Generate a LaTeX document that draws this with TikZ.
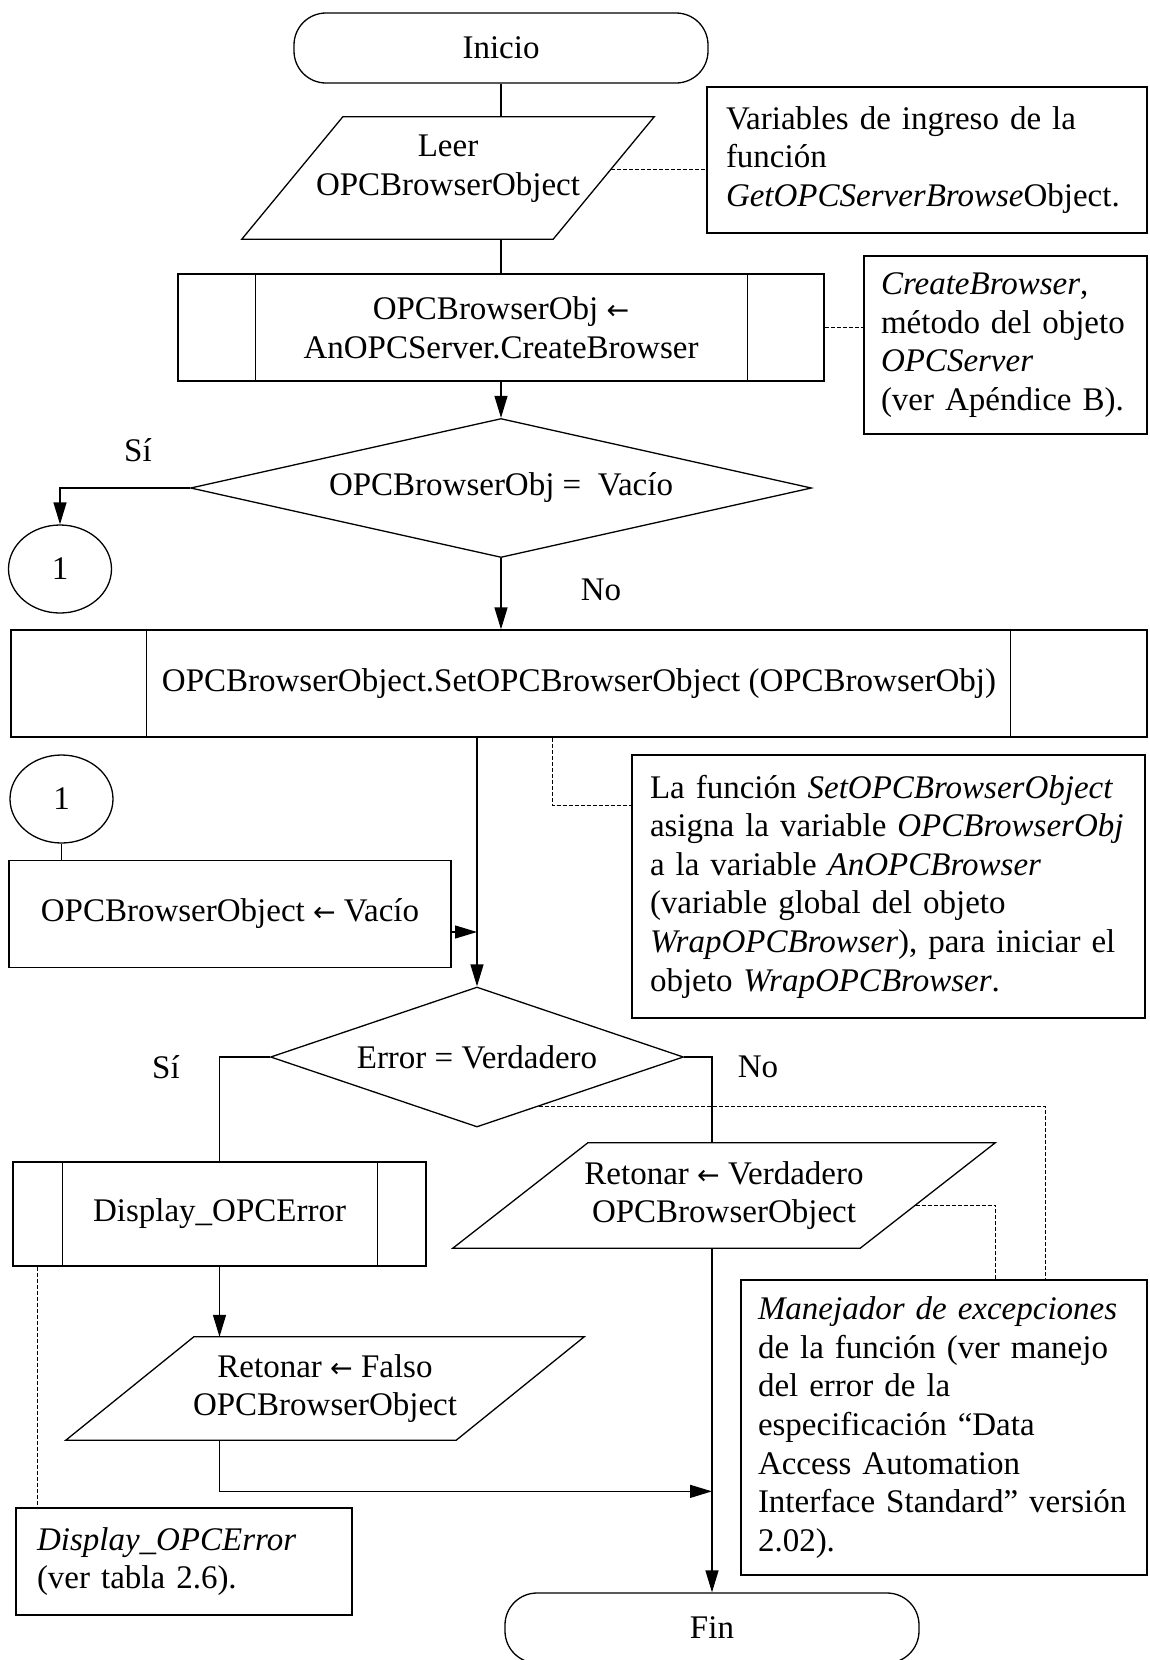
\documentclass[tikz,border=0pt]{standalone}
\usepackage{fontspec}
\setmainfont{Liberation Serif}
\newfontfamily\arrowfont{DejaVu Sans}
\usetikzlibrary{shapes.geometric,arrows.meta,calc}

% assignment arrow
\newcommand\larr{{\arrowfont\fontsize{27}{38.6}\selectfont ←}}
% side bars of a predefined-process box
\newcommand\procbars[3]{%
  \draw[shapeline] ($(#1.north west)+(#2,0)$) -- ($(#1.south west)+(#2,0)$);
  \draw[shapeline] ($(#1.north east)-(#3,0)$) -- ($(#1.south east)-(#3,0)$);}
% input/output parallelogram drawn round a rectangular node
\newcommand\slantbox[2]{%
  \coordinate (#1-tl) at ($(#1.north west)+(#2,0)$);
  \coordinate (#1-tr) at (#1.north east);
  \coordinate (#1-br) at ($(#1.south east)-(#2,0)$);
  \coordinate (#1-bl) at (#1.south west);
  \draw[shapeline] (#1-tl) -- (#1-tr) -- (#1-br) -- (#1-bl) -- cycle;}

\tikzset{
  basefont/.style={font=\fontsize{33}{38.6}\selectfont, inner sep=0pt},
  shapeline/.style={line width=1.3pt, black},
  termbox/.style={basefont, draw, shapeline, rounded corners=32pt,
    minimum width=414pt, minimum height=70pt},
  procbox/.style={basefont, draw, shapeline, align=center},
  slantnode/.style={basefont, align=center},
  decisbox/.style={basefont, draw, shapeline, diamond},
  connbox/.style={basefont, draw, shapeline, ellipse,
    minimum width=103pt, minimum height=88pt},
  notebox/.style={basefont, draw, shapeline, align=left},
  flowline/.style={line width=1.3pt},
  flowarrow/.style={line width=1.3pt, -{Triangle[length=22pt,width=13pt]}},
  notelink/.style={line width=1pt, dash pattern=on 4pt off 2pt},
}

\begin{document}
\begin{tikzpicture}[x=1pt,y=-1pt]
\useasboundingbox (0,0) rectangle (1150,1660);
\fill[white] (0,0) rectangle (1150,1660);
\clip (0,0) rectangle (1150,1660);

% main flow
\node[termbox] (inicio) at (501,48) {Inicio};

\node[slantnode, minimum width=412pt, minimum height=122pt] (leer) at (448,178) {};
\slantbox{leer}{101}
\node[slantnode] (leertxt) at (448,169) {Leer\\OPCBrowserObject};

\node[procbox, minimum width=646pt, minimum height=107pt] (cb) at (501,327.5)
  {OPCBrowserObj \larr\\AnOPCServer.CreateBrowser};
\procbars{cb}{78}{77}

\node[decisbox, aspect=4.47, minimum width=621pt, minimum height=139pt] (d1) at (501,488)
  {OPCBrowserObj =\ \ Vacío};

\node[connbox] (c1) at (60,569) {1};

\node[procbox, minimum width=1136pt, minimum height=107pt] (sb) at (579,683.5)
  {OPCBrowserObject.SetOPCBrowserObject (OPCBrowserObj)};
\procbars{sb}{136}{137}

\node[connbox] (c2) at (61.5,799) {1};

\node[procbox, minimum width=442pt, minimum height=107pt] (vb) at (230,914)
  {OPCBrowserObject \larr\ Vacío};

\node[decisbox, aspect=2.95, minimum width=413pt, minimum height=140pt] (d2) at (477,1057)
  {Error = Verdadero};

\node[procbox, minimum width=413pt, minimum height=104pt] (disp) at (219.5,1214)
  {Display\_OPCError};
\procbars{disp}{50}{49}

\node[slantnode, minimum width=542pt, minimum height=105pt] (rv) at (724,1195.5)
  {Retonar \larr\ Verdadero\\OPCBrowserObject};
\slantbox{rv}{135}

\node[slantnode, minimum width=518pt, minimum height=103pt] (rf) at (325,1388.5)
  {Retonar \larr\ Falso\\OPCBrowserObject};
\slantbox{rf}{128}

\node[termbox] (fin) at (712,1628) {Fin};

% branch labels
\node[basefont] (si1) at (138,450) {Sí};
\node[basefont] (no1) at (601,590) {No};
\node[basefont] (si2) at (166,1067) {Sí};
\node[basefont] (no2) at (758,1067) {No};

% comment boxes
\node[notebox, minimum width=440pt, minimum height=146pt, inner xsep=19pt,
  text width=402pt] (n1) at (927,160)
  {Variables de ingreso de la\\función\\\textit{GetOPCServerBrowse}Object.};
\node[notebox, minimum width=283pt, minimum height=178pt, inner xsep=17pt,
  text width=249pt] (n2) at (1005.5,345)
  {\textit{CreateBrowser},\\método del objeto\\\textit{OPCServer}\\(ver Apéndice B).};
\node[notebox, minimum width=513pt, minimum height=263pt, inner xsep=18pt,
  text width=477pt] (n3) at (888.5,886.5)
  {La función \textit{SetOPCBrowserObject}\\asigna la variable \textit{OPCBrowserObj}\\a la variable \textit{AnOPCBrowser}\\(variable global del objeto\\\textit{WrapOPCBrowser}), para iniciar el\\objeto \textit{WrapOPCBrowser}.};
\node[notebox, minimum width=406pt, minimum height=295pt, inner xsep=17pt,
  text width=372pt] (n4) at (944,1427.5)
  {\textit{Manejador de excepciones}\\de la función (ver manejo\\del error de la\\especificación “Data\\Access Automation\\Interface Standard” versión\\2.02).};
\node[notebox, minimum width=336pt, minimum height=107pt, inner xsep=21pt,
  text width=294pt] (n5) at (184,1561.5)
  {\textit{Display\_OPCError}\\(ver tabla 2.6).};

% flow connectors
\draw[flowline] (inicio.south) -- (inicio.south |- leer.north);
\draw[flowline] (cb.north |- leer.south) -- (cb.north);
\draw[flowarrow] (cb.south) -- (d1.north);
\draw[flowarrow] (d1.west) -| (c1.north);
\draw[flowarrow] (d1.south) -- (d1.south |- sb.north);
\draw[flowarrow] (d2.north |- sb.south) -- (d2.north);
\draw[flowline] (c2.south) -- (c2.south |- vb.north);
\coordinate (vbout) at ($(vb.east)+(0,18)$);
\draw[flowarrow] (vbout) -- (vbout -| d2.north);
\draw[flowline] (d2.west) -| (disp.north);
\draw[flowline] (d2.east) -| (fin.north |- rv.north);
\draw[flowarrow] (disp.south) -- (disp.south |- rf.north);
\draw[flowarrow] (fin.north |- rv.south) -- (fin.north);
\coordinate (merge) at ($(fin.north)+(0,-101)$);
\draw[flowarrow] (disp.south |- rf.south) |- (merge);

% comment links
\coordinate (l1) at ($(leer-tr)!0.43!(leer-br)$);
\draw[notelink] (l1) -- (l1 -| n1.west);
\draw[notelink] (cb.east) -- (cb.east -| n2.west);
\coordinate (sbn) at ($(sb.south west)+(542,0)$);
\draw[notelink] (sbn) |- ($(n3.north west)+(0,51)$);
\coordinate (e2) at ($(d2.east)!0.7!(d2.south)$);
\draw[notelink] (e2) -| ($(n4.north west)+(305,0)$);
\coordinate (e3) at ($(rv-tr)!0.59!(rv-br)$);
\draw[notelink] (e3) -| ($(n4.north west)+(255,0)$);
\coordinate (dd) at ($(disp.south west)+(25,0)$);
\draw[notelink] (dd) -- (dd |- n5.north);
\end{tikzpicture}
\end{document}
